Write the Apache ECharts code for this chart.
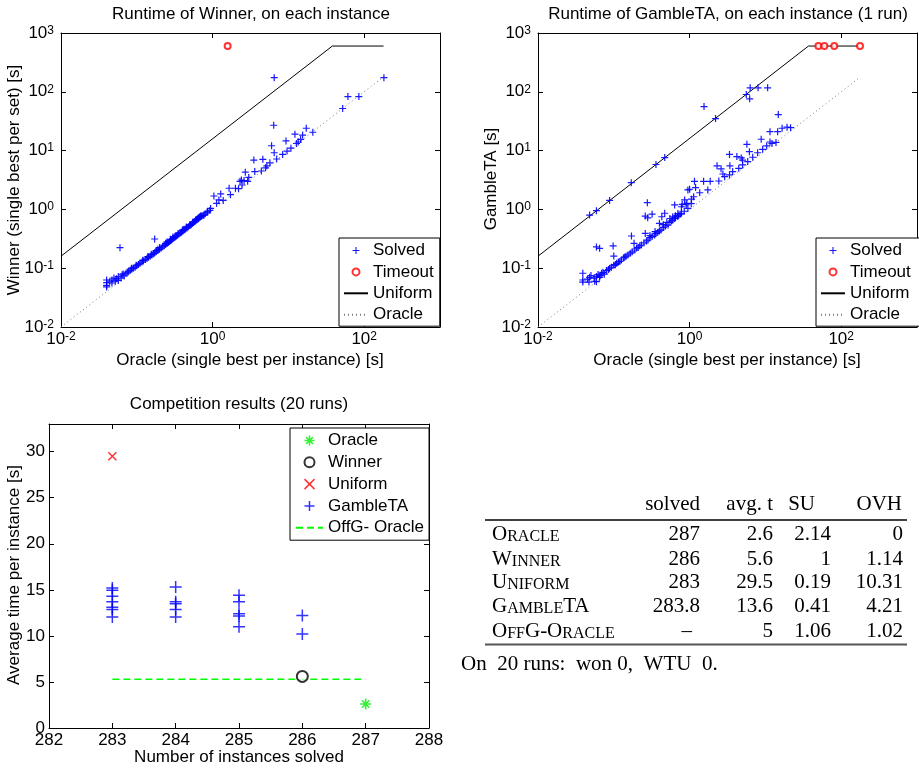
<!DOCTYPE html>
<html><head><meta charset="utf-8">
<script src="https://cdn.jsdelivr.net/npm/echarts@6/dist/echarts.min.js"></script>
<style>html,body{margin:0;padding:0;background:#fff}#c{width:919px;height:768px}</style>
</head><body><div id="c"></div>
<script>
// ---------------- DATA ----------------
// Plot 1: Winner vs Oracle (seconds)
const solvedWinner = [
[182,174],[6.5,174],[61,83],[85,83],[52,52],
[6.4,27],[17.2,24],[21,20.5],[12.2,19],[15.4,18.4],[9.3,14.6],[13.5,14],[14.5,15.5],[12.8,13.2],[10.8,11],[9.6,9.8],[8.4,8.6],[7,7.2],
[6,12.1],[6.5,9.2],[5.7,6.2],[5.2,5.5],[4.6,7.1],[3.5,6.9],[2.7,4.3],[3.6,4.4],[3,3.5],[2.9,3],[4.4,4.5],[5,5.1],[2.4,3.16],[2.45,2.6],
[2.3,3.0],[2.6,3.1],[1.65,2.29],[2,2.29],[2.2,2.25],[1.72,1.78],[1.28,1.83],[1.04,1.69],[1.21,1.45],[1.38,1.42],[1.13,1.27],[0.94,1.04],[0.85,0.91],[0.77,0.8],
[0.06,0.223],[0.172,0.314],
[0.040,0.063],[0.040,0.057],[0.040,0.051],[0.040,0.048],[0.047,0.063],[0.047,0.056],[0.050,0.068],[0.052,0.060],[0.057,0.072],[0.057,0.062],
[0.062,0.068],[0.064,0.077],[0.068,0.074],[0.072,0.082],[0.075,0.086],[0.078,0.087],[0.082,0.092],[0.086,0.097],[0.090,0.100],[0.095,0.104],
[0.100,0.110],[0.105,0.116],[0.11,0.121],[0.117,0.127],[0.122,0.133],[0.13,0.14],[0.137,0.148],[0.143,0.153],[0.15,0.16],[0.158,0.168],
[0.165,0.175],[0.172,0.182],[0.18,0.19],[0.19,0.2],[0.2,0.21],[0.21,0.22],[0.22,0.232],[0.23,0.242],[0.24,0.252],[0.25,0.262],
[0.26,0.273],[0.27,0.285],[0.28,0.296],[0.29,0.306],[0.3,0.318],[0.31,0.33],[0.32,0.34],[0.33,0.35],[0.345,0.365],[0.36,0.38],
[0.375,0.395],[0.39,0.41],[0.405,0.43],[0.42,0.445],[0.44,0.465],[0.46,0.485],[0.48,0.505],[0.5,0.53],[0.52,0.55],[0.54,0.575],
[0.56,0.6],[0.58,0.62],[0.6,0.64],[0.62,0.665],[0.64,0.69],[0.66,0.715],[0.68,0.74],[0.7,0.755],[0.72,0.77],[0.75,0.79],
[0.8,0.84],[0.86,0.9],[0.92,0.96],[0.25,0.28],[0.3,0.34],[0.35,0.39],[0.4,0.445],[0.45,0.5],[0.55,0.61],[0.6,0.67],
[0.65,0.72],[0.7,0.78],[0.18,0.2],[0.2,0.225],[0.28,0.31],[0.5,0.55],[0.33,0.36],[0.42,0.46],[0.62,0.68],[0.68,0.75],
[0.044,0.06],[0.054,0.066],[0.066,0.08],[0.085,0.1],[0.098,0.112],[0.12,0.136],[0.14,0.158],[0.155,0.172],[0.19,0.21],[0.24,0.265]
];
const timeoutWinner = [[1.58,600]];
const uniformLine1 = [[0.01,0.16],[38,600],[180,600]];
const oracleLine1 = [[0.01,0.01],[180,180]];

// Plot 2: GambleTA vs Oracle (seconds)
const solvedGamble = [
[1.55,56],[5.6,90],[6.3,117],[8,117],[10.7,117],[6.2,76],[2.2,35],[0.47,7.6],[0.36,5.8],[0.17,2.85],[0.088,1.42],[0.059,0.95],[0.048,0.8],
[14.8,41],[19.3,25],[16.6,24],[14.5,21],[11.5,21],[21.5,24.5],[8.8,15.6],[11.5,14],[12.2,13.2],[13.8,13.8],[5.7,12.8],[6.15,9.6],
[7.9,9.2],[9.2,10.5],[10.4,12],[6.8,7.7],[5.85,6.5],[5,5.7],[4.45,5],[3.7,4.4],[3.36,3.85],[3.36,8.6],[4.2,7.9],[4.8,7.5],[5,6.9],
[3.4,5.5],[2.3,5.5],[2.6,4.9],[2.75,4],[2.9,3.6],[2.43,3.04],[1.87,3],[1.53,3],[1.16,3],[1,2.2],[1.2,2.35],[1.74,2.14],[1.36,1.92],
[1.13,1.64],[1.06,1.49],[0.86,1.45],[0.92,1.27],[0.78,1.11],
[0.277,1.3],[0.26,0.77],[0.28,0.72],[0.32,0.83],[0.171,0.353],[0.098,0.239],[0.065,0.218],[0.059,0.23],[0.1,0.161],[0.26,0.39],[0.185,0.265],
[0.039,0.082],[0.039,0.063],[0.039,0.058],[0.048,0.07],[0.059,0.072],[0.059,0.059],[0.069,0.082],[0.080,0.091],[0.093,0.104],[0.109,0.121],
[0.126,0.138],[0.154,0.168],[0.189,0.204],[0.231,0.248],[0.283,0.302],[0.346,0.367],[0.42,0.447],[0.52,0.543],[0.635,0.706],[0.78,0.86],
[0.95,1.04],[0.469,0.86],[0.635,1.19],[0.8,1.22],[0.9,1.2],[1.05,1.25],[0.4,0.58],[0.95,2.14],[0.43,0.75],
[0.045,0.065],[0.05,0.075],[0.055,0.068],[0.062,0.078],[0.065,0.07],[0.072,0.085],[0.075,0.079],[0.085,0.095],[0.088,0.1],[0.1,0.112],
[0.105,0.115],[0.115,0.128],[0.12,0.13],[0.135,0.15],[0.14,0.155],[0.145,0.16],[0.165,0.18],[0.175,0.19],[0.2,0.22],[0.21,0.225],
[0.22,0.24],[0.25,0.27],[0.27,0.29],[0.3,0.33],[0.32,0.345],[0.36,0.39],[0.38,0.41],[0.4,0.43],[0.45,0.49],[0.48,0.52],
[0.55,0.6],[0.58,0.64],[0.6,0.66],[0.65,0.72],[0.7,0.76],[0.72,0.8],[0.75,0.83],[0.85,0.93],[0.5,0.6],[0.55,0.7],
[0.6,0.75],[0.65,0.78],[0.7,0.85],[0.45,0.55],[0.35,0.42],[0.3,0.36],[0.047,0.058],[0.056,0.06],[0.066,0.075]
];
const timeoutGamble = [[50,600],[60,600],[81,600],[177,600]];
const uniformLine2 = [[0.01,0.16],[37,600],[177,600]];
const oracleLine2 = [[0.01,0.01],[170,170]];

// Plot 3: competition results (20 runs)
const compOracle = [[287,2.6]];
const compWinner = [[286,5.6]];
const compUniform = [[283,29.5]];
const compGamble = [[283,15.2],[283,14.95],[283,14.3],[283,13.7],[283,13.1],[283,12.85],[283,12.05],
  [284,15.3],[284,13.7],[284,13.5],[284,12.85],[284,12.05],
  [285,14.4],[285,13.7],[285,12.4],[285,12.15],[285,11.0],
  [286,12.2],[286,10.2]];
const offgOracle = [[283,5.3],[287,5.3]];
const xTicks3 = [282,283,284,285,286,287,288];
const yTicks3 = [0,5,10,15,20,25,30];

// Table
const tableHeader = ['solved','avg. t','SU','OVH'];
const tableRows = ['Oracle','Winner','Uniform','GambleTA','OffG-Oracle'];
const colSolved = ['287','286','283','283.8','\u2013'];
const colAvgT = ['2.6','5.6','29.5','13.6','5'];
const colSU = ['2.14','1','0.19','0.41','1.06'];
const colOVH = ['0','1.14','10.31','4.21','1.02'];
const footerText = 'On  20 runs:  won 0,  WTU  0.';

// ---------------- CHART ----------------
const SANS = 'Liberation Sans, Arial, Helvetica, sans-serif';
const SERIF = 'Liberation Serif, Times New Roman, serif';
const PLUS = 'path://M0,5L10,5M5,0L5,10';
const XMARK = 'path://M0,0L10,10M10,0L0,10';
const STAR = 'path://M5,0L5,10M0,5L10,5M1.6,1.6L8.4,8.4M8.4,1.6L1.6,8.4';

const supRich = {
  b: {fontSize:17, fontFamily:SANS, color:'#000', lineHeight:17, verticalAlign:'bottom', padding:[4,0,0,0]},
  s: {fontSize:12, fontFamily:SANS, color:'#000', lineHeight:12, verticalAlign:'top'}
};
function expLabel(v){
  const e = Math.round(Math.log10(v));
  if (e > 3 || e < -2) return '';
  return '{b|10}{s|' + e + '}';
}
const tickStyle = {show:true, inside:true, length:5, lineStyle:{color:'#000', width:1}};
const lineStyleAx = {show:true, onZero:false, lineStyle:{color:'#000', width:1}};

function logX(grid, pos, show){
  return {type:'log', logBase:100, gridIndex:grid, position:pos, min:0.01, max:1000,
    axisLine:lineStyleAx, axisTick:tickStyle, splitLine:{show:false}, minorTick:{show:false},
    axisLabel: show ? {show:true, margin:4, formatter:(v)=> (Math.abs(Math.log10(v)-3)<1e-6 ? '' : expLabel(v)), rich:supRich, showMaxLabel:true, hideOverlap:false} : {show:false}};
}
function logY(grid, pos, show){
  return {type:'log', logBase:10, gridIndex:grid, position:pos, min:0.01, max:1000,
    axisLine:lineStyleAx, axisTick:tickStyle, splitLine:{show:false}, minorTick:{show:false},
    axisLabel: show ? {show:true, margin:7, formatter:expLabel, rich:supRich, hideOverlap:false} : {show:false}};
}
function linX(pos, show){
  return {type:'value', gridIndex:2, position:pos, min:282, max:288, interval:1,
    axisLine:lineStyleAx, axisTick:tickStyle, splitLine:{show:false},
    axisLabel: show ? {show:true, margin:4, fontSize:17, fontFamily:SANS, color:'#000',
      formatter:(v)=> xTicks3.indexOf(v) >= 0 ? String(v) : ''} : {show:false}};
}
function linY(pos, show){
  return {type:'value', gridIndex:2, position:pos, min:0, max:33, interval:5,
    axisLine:lineStyleAx, axisTick:tickStyle, splitLine:{show:false},
    axisLabel: show ? {show:true, margin:4, fontSize:17, fontFamily:SANS, color:'#000',
      formatter:(v)=> yTicks3.indexOf(v) >= 0 ? String(v) : ''} : {show:false}};
}

function scatterPlots(name, data, xi, yi){
  return {name, type:'scatter', xAxisIndex:xi, yAxisIndex:yi, data, symbol:PLUS, symbolSize:7,
    itemStyle:{color:'#0000ff', borderColor:'#0000ff', borderWidth:1.2, opacity:0.9}, z:5, silent:true};
}
function timeoutPlots(name, data, xi, yi){
  return {name, type:'scatter', xAxisIndex:xi, yAxisIndex:yi, data, symbol:'emptyCircle', symbolSize:6,
    itemStyle:{color:'#ff0000', borderColor:'#ff0000', borderWidth:1}, z:6, silent:true};
}
function uniformLine(name, data, xi, yi){
  return {name, type:'line', xAxisIndex:xi, yAxisIndex:yi, data, symbol:'none', showSymbol:false,
    lineStyle:{color:'#000', width:1}, itemStyle:{color:'#000'}, z:3, silent:true};
}
function oracleLine(name, data, xi, yi){
  return {name, type:'line', xAxisIndex:xi, yAxisIndex:yi, data, symbol:'none', showSymbol:false,
    lineStyle:{color:'#7a7a7a', width:1, type:[1,3]}, itemStyle:{color:'#7a7a7a'}, z:2, silent:true};
}

function smallCaps(s){
  let out = '', cur = null, buf = '';
  for (const ch of s){
    const t = (ch >= 'a' && ch <= 'z') ? 's' : 'b';
    const c = ch.toUpperCase();
    if (t !== cur){ if (buf) out += '{' + cur + '|' + buf + '}'; cur = t; buf = c; }
    else buf += c;
  }
  if (buf) out += '{' + cur + '|' + buf + '}';
  return out;
}

const graphics = [];
function txt(x, y, text, opts){
  opts = opts || {};
  graphics.push({type:'text', x, y, rotation: opts.rotation || 0, silent:true, z:100,
    style:{x:0, y:0, text, fill:'#000', font: opts.font || ('17px ' + SANS),
      textAlign: opts.align || 'center', textVerticalAlign: 'middle', rich: opts.rich}});
}
// titles and axis names
txt(251, 14, 'Runtime of Winner, on each instance');
txt(728, 14, 'Runtime of GambleTA, on each instance (1 run)');
txt(239, 404, 'Competition results (20 runs)');
txt(250, 360, 'Oracle (single best per instance) [s]');
txt(727, 360, 'Oracle (single best per instance) [s]');
txt(239, 757, 'Number of instances solved');
txt(14, 180, 'Winner (single best per set) [s]', {rotation:Math.PI/2});
txt(491, 179, 'GambleTA [s]', {rotation:Math.PI/2});
txt(14, 575, 'Average time per instance [s]', {rotation:Math.PI/2});

// table
const SF = '21px ' + SERIF;
const rowY = [534.5, 559, 582.5, 606.5, 631];
const colRight = [700, 773, 831, 903];
const headRight = [700, 773, 815, 902];
const headY = 504;
tableHeader.forEach((h,i)=> txt(headRight[i], headY, h, {font:SF, align:'right'}));
graphics.push({type:'line', silent:true, shape:{x1:485, y1:520, x2:907, y2:520}, style:{stroke:'#000', lineWidth:1.6}});
graphics.push({type:'line', silent:true, shape:{x1:485, y1:644.5, x2:907, y2:644.5}, style:{stroke:'#555', lineWidth:2}});
const scRich = {
  b:{fontSize:21, fontFamily:SERIF, color:'#000', lineHeight:21, verticalAlign:'bottom'},
  s:{fontSize:16, fontFamily:SERIF, color:'#000', lineHeight:16, verticalAlign:'bottom'}
};
const cols = [colSolved, colAvgT, colSU, colOVH];
tableRows.forEach((r,i)=>{
  txt(492, rowY[i], smallCaps(r), {align:'left', rich:scRich, font:SF});
  cols.forEach((c,j)=> txt(colRight[j] - (c[i] === '\u2013' ? 8 : 0), rowY[i], c[i], {font:SF, align:'right'}));
});
txt(461, 664.5, footerText, {font:SF, align:'left'});

const legendText = {fontFamily:SANS, fontSize:17, color:'#000', lineHeight:16};
const noSym = {color:'rgba(0,0,0,0)', borderColor:'rgba(0,0,0,0)', borderWidth:0, opacity:0};

const option = {
  animation:false,
  backgroundColor:'#fff',
  grid:[
    {left:61, top:33, width:379, height:294, outerBoundsMode:'none', containLabel:false},
    {left:538, top:33, width:379, height:294, outerBoundsMode:'none', containLabel:false},
    {left:49, top:424, width:380, height:304, outerBoundsMode:'none', containLabel:false}
  ],
  xAxis:[ logX(0,'bottom',true), logX(0,'top',false), logX(1,'bottom',true), logX(1,'top',false), linX('bottom',true), linX('top',false) ],
  yAxis:[ logY(0,'left',true), logY(0,'right',false), logY(1,'left',true), logY(1,'right',false), linY('left',true), linY('right',false) ],
  legend:[
    {orient:'vertical', left:339, top:238, padding:[4,6,3,4], itemGap:4.4, itemWidth:24, itemHeight:7,
      borderColor:'#000', borderWidth:1, backgroundColor:'#fff', textStyle:legendText, selectedMode:false,
      itemStyle:{borderWidth:1.1},
      data:['Solved','Timeout',{name:'Uniform', itemStyle:noSym},{name:'Oracle', itemStyle:noSym}]},
    {orient:'vertical', left:816, top:238, padding:[4,6,3,4], itemGap:4.4, itemWidth:24, itemHeight:7,
      borderColor:'#000', borderWidth:1, backgroundColor:'#fff', textStyle:legendText, selectedMode:false,
      itemStyle:{borderWidth:1.1},
      data:['Solved ','Timeout ',{name:'Uniform ', itemStyle:noSym},{name:'Oracle ', itemStyle:noSym}]},
    {orient:'vertical', left:290, top:428, padding:[4,5,4,5], itemGap:4.8, itemWidth:27, itemHeight:10,
      borderColor:'#000', borderWidth:1, backgroundColor:'#fff', textStyle:legendText, selectedMode:false,
      itemStyle:{borderWidth:1.5},
      data:['Oracle  ','Winner','Uniform  ','GambleTA',{name:'OffG- Oracle', itemStyle:noSym}]}
  ],
  series:[
    oracleLine('Oracle', oracleLine1, 0, 0),
    uniformLine('Uniform', uniformLine1, 0, 0),
    scatterPlots('Solved', solvedWinner, 0, 0),
    timeoutPlots('Timeout', timeoutWinner, 0, 0),

    oracleLine('Oracle ', oracleLine2, 2, 2),
    uniformLine('Uniform ', uniformLine2, 2, 2),
    scatterPlots('Solved ', solvedGamble, 2, 2),
    timeoutPlots('Timeout ', timeoutGamble, 2, 2),

    {name:'OffG- Oracle', type:'line', xAxisIndex:4, yAxisIndex:4, data:offgOracle, symbol:'none', showSymbol:false,
      lineStyle:{color:'#00ff00', width:1.5, type:[7,4]}, itemStyle:{color:'#00ff00'}, z:3, silent:true},
    {name:'Oracle  ', type:'scatter', xAxisIndex:4, yAxisIndex:4, data:compOracle, symbol:STAR, symbolSize:11,
      itemStyle:{color:'#00ee00', borderColor:'#00ee00', borderWidth:1.6}, z:5, silent:true},
    {name:'Winner', type:'scatter', xAxisIndex:4, yAxisIndex:4, data:compWinner, symbol:'emptyCircle', symbolSize:11,
      itemStyle:{color:'#000', borderColor:'#000', borderWidth:1.5}, z:5, silent:true},
    {name:'Uniform  ', type:'scatter', xAxisIndex:4, yAxisIndex:4, data:compUniform, symbol:XMARK, symbolSize:8,
      itemStyle:{color:'#ff0000', borderColor:'#ff0000', borderWidth:1.5}, z:5, silent:true},
    {name:'GambleTA', type:'scatter', xAxisIndex:4, yAxisIndex:4, data:compGamble, symbol:PLUS, symbolSize:12,
      itemStyle:{color:'#0000ff', borderColor:'#0000ff', borderWidth:1.5}, z:5, silent:true}
  ],
  graphic: graphics
};
const chart = echarts.init(document.getElementById('c'), null, {renderer:'canvas'});
chart.setOption(option);
</script>
</body></html>
